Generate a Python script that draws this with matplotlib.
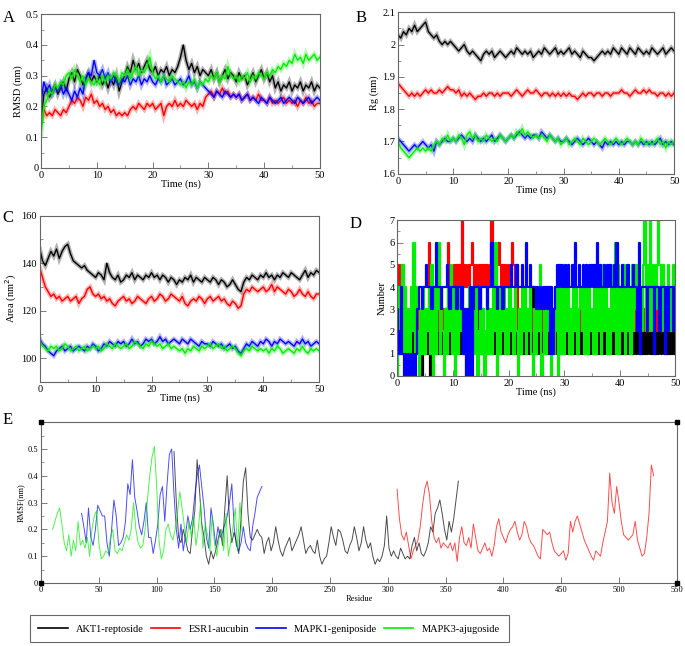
# MD simulation summary figure (RMSD, Rg, SASA, H-bonds, RMSF)
import numpy as np
import matplotlib
matplotlib.use('Agg')
import matplotlib.pyplot as plt
from matplotlib.lines import Line2D
from matplotlib.ticker import MultipleLocator, FormatStrFormatter

plt.rcParams['font.family'] = ['Liberation Serif', 'DejaVu Serif']

names = ['AKT1-reptoside', 'ESR1-aucubin', 'MAPK1-geniposide', 'MAPK3-ajugoside']
colors = ['#000000', '#ff0000', '#0000ff', '#00ee00']

# A: RMSD (nm), every 0.5 ns
rmsd_akt1 = [0.15,0.24,0.26,0.23,0.25,0.27,0.24,0.26,0.28,0.25,
             0.29,0.31,0.28,0.32,0.30,0.27,0.29,0.31,0.28,0.30,
             0.28,0.30,0.27,0.29,0.26,0.29,0.27,0.30,0.25,0.28,
             0.30,0.33,0.31,0.35,0.32,0.34,0.31,0.33,0.35,0.32,
             0.31,0.33,0.30,0.32,0.31,0.33,0.30,0.32,0.31,0.33,
             0.36,0.40,0.35,0.32,0.34,0.31,0.33,0.30,0.32,0.31,
             0.30,0.32,0.29,0.31,0.28,0.30,0.32,0.29,0.31,0.30,
             0.28,0.31,0.29,0.30,0.27,0.29,0.31,0.28,0.30,0.32,
             0.29,0.31,0.28,0.30,0.26,0.28,0.25,0.27,0.26,0.28,
             0.25,0.27,0.26,0.28,0.25,0.27,0.26,0.28,0.25,0.27,0.26]
rmsd_esr1 = [0.15,0.19,0.17,0.18,0.17,0.19,0.18,0.17,0.19,0.18,
             0.20,0.22,0.21,0.23,0.22,0.20,0.23,0.22,0.24,0.21,
             0.22,0.20,0.21,0.19,0.20,0.18,0.19,0.17,0.18,0.17,
             0.18,0.17,0.19,0.20,0.19,0.21,0.20,0.19,0.21,0.20,
             0.21,0.19,0.20,0.21,0.17,0.20,0.21,0.20,0.22,0.20,
             0.21,0.20,0.22,0.21,0.20,0.21,0.19,0.21,0.20,0.23,
             0.24,0.25,0.23,0.25,0.24,0.26,0.24,0.25,0.23,0.24,
             0.23,0.24,0.22,0.23,0.24,0.22,0.23,0.22,0.24,0.22,
             0.22,0.21,0.23,0.21,0.22,0.21,0.22,0.23,0.21,0.22,
             0.21,0.22,0.20,0.22,0.21,0.23,0.21,0.22,0.20,0.21,0.21]
rmsd_mapk1 = [0.22,0.28,0.25,0.27,0.24,0.26,0.25,0.27,0.24,0.26,
              0.24,0.22,0.25,0.23,0.26,0.24,0.29,0.31,0.30,0.35,
              0.31,0.30,0.32,0.29,0.31,0.28,0.30,0.28,0.27,0.29,
              0.28,0.30,0.27,0.29,0.28,0.30,0.27,0.29,0.28,0.30,
              0.28,0.27,0.29,0.28,0.30,0.27,0.28,0.29,0.27,0.28,
              0.29,0.27,0.28,0.30,0.27,0.28,0.26,0.28,0.27,0.26,
              0.25,0.24,0.23,0.25,0.24,0.23,0.25,0.24,0.23,0.24,
              0.23,0.24,0.22,0.23,0.24,0.22,0.23,0.22,0.21,0.23,
              0.22,0.21,0.23,0.22,0.21,0.22,0.23,0.21,0.22,0.23,
              0.22,0.21,0.23,0.22,0.21,0.22,0.23,0.21,0.22,0.23,0.22]
rmsd_mapk3 = [0.11,0.20,0.22,0.25,0.24,0.27,0.26,0.28,0.27,0.30,
              0.31,0.29,0.32,0.30,0.28,0.30,0.27,0.29,0.28,0.27,
              0.29,0.27,0.30,0.28,0.30,0.29,0.31,0.30,0.28,0.31,
              0.30,0.32,0.29,0.31,0.33,0.30,0.32,0.31,0.33,0.36,
              0.31,0.29,0.30,0.28,0.30,0.29,0.28,0.30,0.29,0.28,
              0.27,0.28,0.26,0.28,0.27,0.29,0.26,0.28,0.27,0.29,
              0.28,0.30,0.29,0.31,0.28,0.30,0.29,0.33,0.30,0.29,
              0.30,0.28,0.30,0.29,0.31,0.28,0.30,0.29,0.31,0.30,
              0.29,0.31,0.30,0.32,0.31,0.33,0.32,0.34,0.33,0.35,
              0.34,0.37,0.35,0.36,0.34,0.37,0.35,0.36,0.37,0.35,0.36]

# B: radius of gyration (nm)
rg_akt1 = [2.03,2.02,2.04,2.03,2.05,2.04,2.06,2.04,2.05,2.06,
           2.07,2.04,2.03,2.02,2.03,2.01,2.00,2.01,2.00,2.01,
           2.00,1.99,1.98,1.99,2.00,1.98,1.97,1.98,1.97,1.96,
           1.95,1.97,1.98,1.97,1.98,1.96,1.97,1.98,1.97,1.96,
           1.97,1.98,1.97,1.99,1.98,1.97,1.98,1.97,1.98,1.96,
           1.97,1.98,1.97,1.99,1.98,1.97,1.98,1.99,1.97,1.98,
           1.97,1.98,1.99,1.97,1.98,1.97,1.96,1.98,1.97,1.96,
           1.96,1.95,1.96,1.97,1.98,1.97,1.98,1.97,1.99,1.98,
           1.97,1.99,1.98,1.97,1.99,1.98,1.97,1.99,1.98,1.97,
           1.98,1.97,1.99,1.98,1.97,1.98,1.99,1.97,1.98,1.99,1.98]
rg_esr1 = [1.88,1.87,1.86,1.85,1.84,1.85,1.84,1.85,1.84,1.85,
           1.86,1.85,1.86,1.85,1.85,1.86,1.85,1.86,1.87,1.86,
           1.86,1.85,1.86,1.84,1.85,1.84,1.85,1.84,1.83,1.84,
           1.84,1.85,1.84,1.85,1.85,1.84,1.85,1.84,1.85,1.85,
           1.85,1.84,1.85,1.86,1.85,1.84,1.85,1.86,1.85,1.85,
           1.86,1.85,1.84,1.85,1.85,1.84,1.85,1.84,1.85,1.84,
           1.85,1.84,1.85,1.84,1.84,1.83,1.84,1.85,1.84,1.85,
           1.85,1.84,1.85,1.85,1.84,1.85,1.85,1.84,1.85,1.85,
           1.85,1.86,1.85,1.85,1.84,1.85,1.86,1.85,1.85,1.86,
           1.85,1.86,1.85,1.85,1.84,1.85,1.85,1.84,1.85,1.84,1.85]
rg_mapk1 = [1.71,1.70,1.69,1.68,1.67,1.68,1.69,1.68,1.69,1.70,
            1.69,1.68,1.69,1.67,1.70,1.69,1.70,1.71,1.70,1.70,
            1.71,1.70,1.71,1.72,1.71,1.70,1.71,1.70,1.72,1.71,
            1.70,1.71,1.70,1.71,1.72,1.70,1.71,1.72,1.71,1.70,
            1.71,1.72,1.71,1.72,1.73,1.72,1.71,1.72,1.71,1.72,
            1.72,1.71,1.73,1.72,1.71,1.72,1.71,1.70,1.71,1.70,
            1.70,1.71,1.70,1.69,1.70,1.71,1.70,1.69,1.70,1.71,
            1.70,1.69,1.70,1.69,1.68,1.70,1.69,1.70,1.69,1.70,
            1.69,1.70,1.69,1.70,1.70,1.69,1.70,1.69,1.70,1.69,
            1.70,1.69,1.70,1.69,1.70,1.71,1.69,1.70,1.69,1.70,1.69]
rg_mapk3 = [1.70,1.68,1.67,1.66,1.65,1.66,1.67,1.68,1.67,1.68,
            1.67,1.68,1.67,1.69,1.70,1.69,1.71,1.70,1.72,1.70,
            1.71,1.70,1.72,1.71,1.69,1.72,1.73,1.71,1.72,1.70,
            1.71,1.70,1.72,1.71,1.70,1.71,1.70,1.72,1.71,1.70,
            1.71,1.72,1.71,1.73,1.72,1.74,1.72,1.73,1.72,1.71,
            1.72,1.71,1.72,1.71,1.70,1.72,1.71,1.70,1.71,1.69,
            1.70,1.71,1.69,1.70,1.71,1.70,1.69,1.71,1.70,1.69,
            1.70,1.71,1.70,1.69,1.70,1.71,1.70,1.69,1.70,1.71,
            1.70,1.69,1.70,1.71,1.70,1.69,1.70,1.69,1.71,1.70,
            1.69,1.70,1.69,1.70,1.71,1.69,1.70,1.68,1.70,1.69,1.70]

# C: SASA (nm^2)
area_akt1 = [146,141,139,142,145,143,146,142,145,147,
             148,144,141,140,139,138,139,137,136,135,
             134,136,135,133,140,136,134,133,135,132,
             133,135,134,136,133,135,134,133,135,134,
             136,134,135,133,135,134,132,134,133,131,
             133,132,134,133,135,132,134,133,132,134,
             133,132,134,133,131,133,132,130,131,133,
             131,129,128,132,134,133,135,134,133,135,
             134,136,134,135,133,135,134,136,135,134,
             136,135,134,133,135,137,134,136,135,137,136]
area_esr1 = [138,134,130,128,126,127,125,126,124,125,
             126,124,125,126,123,125,126,129,130,127,
             126,127,125,126,124,125,123,122,124,125,
             126,124,125,123,124,126,125,124,123,125,
             126,124,125,127,126,124,125,127,126,125,
             124,126,123,122,124,125,124,126,125,123,
             125,126,124,125,126,124,125,123,122,124,
             123,121,122,127,129,128,130,129,128,129,
             130,128,129,131,128,130,129,128,127,129,
             128,126,127,129,127,126,128,126,125,127,127]
area_mapk1 = [108,106,105,103,102,101,103,104,105,103,
              104,105,103,104,105,104,103,105,104,106,
              105,103,104,106,105,107,106,105,107,106,
              107,105,106,108,106,107,105,106,108,107,
              108,106,107,109,107,108,106,107,108,107,
              106,108,107,106,108,107,106,105,107,106,
              106,105,107,106,105,106,104,105,106,104,
              105,103,102,104,106,105,107,106,105,107,
              106,108,107,105,107,106,108,107,106,107,
              106,105,107,106,108,106,107,105,106,107,106]
area_mapk3 = [107,105,104,103,105,104,105,103,104,106,
              105,103,104,105,103,104,105,103,104,105,
              104,105,103,104,106,105,104,106,105,104,
              105,106,104,105,107,106,105,104,106,105,
              107,106,105,106,104,105,106,104,105,104,
              103,104,102,104,103,105,104,103,105,104,
              105,106,104,105,106,104,105,103,104,105,
              104,102,101,103,104,103,105,104,103,104,
              103,104,102,104,103,105,104,102,103,104,
              103,102,104,103,105,103,102,104,103,104,103]

# D: number of H-bonds, every 0.25 ns (one digit per frame)
hb_akt1 = ("1213121312" "0213121203" "1213021312" "1312131213"
           "2131213121" "3121312131" "2131213121" "3121312131"
           "2131213121" "3121312141" "2131213121" "3121312131"
           "2131213121" "3121312131" "2131213121" "3121312131"
           "2121212121" "1212121212" "1212121212" "1212121212" "1")
hb_esr1 = ("3545423232" "3232323232" "2326232323" "2323232623"
           "4545454745" "4545654545" "4545454574" "5456545454"
           "5456545232" "3232323232" "3232323232" "3232323232"
           "3232323232" "3232323232" "3232323232" "3232323232"
           "3232323232" "3232323232" "3232323232" "3232323232" "3")
hb_mapk1 = ("3214101010" "1010134434" "4544434464" "4434445434"
            "4443443413" "0304034443" "3444434464" "4434443444"
            "4454445444" "5446445444" "3434343434" "1413454545"
            "4545445464" "4544545454" "5454645445" "4545445464"
            "4454445444" "5442614444" "2444414442" "4441424442" "4")
hb_mapk3 = ("0142514031" "4261420314" "1324150413" "6142031425"
            "1403142413" "0241431402" "4130241314" "2604132413"
            "1423142031" "4241324103" "1425014132" "4031420414"
            "1424131524" "1342415142" "3151424152" "4131524615"
            "1425142415" "2535242572" "5275253575" "2524352425" "4")

# E: RMSF (nm) per residue, every 2 residues
rmsf_akt1_start = 115
rmsf_akt1 = [0.49,0.30,0.17,0.15,0.20,0.16,0.12,0.11,0.20,0.27,
             0.46,0.35,0.22,0.17,0.10,0.07,0.12,0.09,0.12,0.16,
             0.20,0.14,0.28,0.40,0.23,0.15,0.19,0.15,0.11,0.24,
             0.38,0.43,0.26,0.17,0.16,0.18,0.20,0.18,0.17,0.11,
             0.15,0.17,0.12,0.15,0.21,0.16,0.12,0.10,0.13,0.15,
             0.17,0.12,0.14,0.16,0.18,0.21,0.16,0.11,0.13,0.14,
             0.12,0.11,0.16,0.10,0.07,0.09,0.10,0.15,0.21,0.17,
             0.14,0.20,0.19,0.16,0.12,0.11,0.14,0.16,0.21,0.17,
             0.12,0.15,0.21,0.16,0.13,0.15,0.10,0.07,0.09,0.08,
             0.10,0.14,0.25,0.13,0.10,0.12,0.10,0.09,0.13,0.11,
             0.09,0.10,0.09,0.14,0.17,0.12,0.15,0.11,0.10,0.12,
             0.15,0.21,0.19,0.26,0.28,0.31,0.26,0.20,0.16,0.23,
             0.19,0.24,0.31,0.38]
rmsf_esr1_start = 308
rmsf_esr1 = [0.35,0.24,0.18,0.16,0.19,0.14,0.09,0.12,0.14,0.16,
             0.21,0.29,0.35,0.38,0.33,0.23,0.17,0.15,0.17,0.13,
             0.15,0.14,0.13,0.15,0.12,0.15,0.08,0.17,0.21,0.15,
             0.14,0.17,0.13,0.22,0.17,0.12,0.11,0.13,0.15,0.12,
             0.13,0.10,0.14,0.21,0.24,0.19,0.17,0.15,0.18,0.20,
             0.21,0.23,0.19,0.16,0.18,0.23,0.21,0.17,0.15,0.14,
             0.12,0.10,0.09,0.20,0.19,0.18,0.19,0.15,0.12,0.11,
             0.10,0.11,0.12,0.085,0.11,0.23,0.19,0.23,0.25,0.22,
             0.19,0.16,0.14,0.12,0.10,0.085,0.12,0.11,0.10,0.15,
             0.19,0.23,0.41,0.30,0.26,0.36,0.30,0.23,0.18,0.17,
             0.16,0.17,0.18,0.23,0.16,0.13,0.10,0.11,0.17,0.26,
             0.44,0.40]
rmsf_mapk1_start = 35
rmsf_mapk1 = [0.26,0.21,0.15,0.28,0.17,0.14,0.20,0.29,0.27,0.25,
              0.25,0.15,0.10,0.20,0.31,0.25,0.14,0.15,0.17,0.23,
              0.37,0.33,0.46,0.32,0.27,0.21,0.18,0.23,0.30,0.17,
              0.17,0.11,0.16,0.22,0.33,0.36,0.23,0.37,0.48,0.50,
              0.33,0.20,0.13,0.22,0.12,0.18,0.25,0.20,0.24,0.33,
              0.40,0.44,0.36,0.28,0.17,0.13,0.28,0.22,0.14,0.21,
              0.17,0.19,0.22,0.25,0.30,0.37,0.21,0.14,0.12,0.15,
              0.21,0.15,0.13,0.12,0.21,0.26,0.32,0.34,0.36]
rmsf_mapk3_start = 10
rmsf_mapk3 = [0.20,0.23,0.26,0.28,0.22,0.15,0.12,0.18,0.10,0.16,
              0.12,0.23,0.14,0.16,0.13,0.17,0.10,0.20,0.25,0.27,
              0.15,0.09,0.10,0.12,0.11,0.17,0.20,0.12,0.11,0.13,
              0.12,0.15,0.18,0.16,0.20,0.30,0.20,0.15,0.13,0.14,
              0.20,0.31,0.40,0.47,0.51,0.36,0.16,0.09,0.12,0.20,
              0.22,0.18,0.16,0.20,0.26,0.34,0.28,0.21,0.15,0.23,
              0.17,0.25,0.14,0.20,0.30,0.13,0.22,0.18,0.12,0.25,
              0.15,0.10,0.17,0.20,0.12,0.26,0.10,0.15,0.21,0.28,
              0.12,0.30,0.19]

fig = plt.figure(figsize=(6.85, 6.46), dpi=100)

ax_a = fig.add_axes([0.060, 0.740, 0.407, 0.238])
ax_b = fig.add_axes([0.581, 0.731, 0.403, 0.250])
ax_c = fig.add_axes([0.058, 0.409, 0.408, 0.257])
ax_d = fig.add_axes([0.580, 0.418, 0.406, 0.241])
ax_e = fig.add_axes([0.060, 0.0975, 0.928, 0.249])

spine_col = '#666666'


def style(ax, fs=7.5):
    for s in ax.spines.values():
        s.set_color(spine_col)
        s.set_linewidth(0.8)
    ax.tick_params(which='both', direction='in', color=spine_col, labelsize=fs, pad=2)
    ax.tick_params(which='major', length=4, width=0.6)
    ax.tick_params(which='minor', length=2, width=0.5)


series_a = [rmsd_akt1, rmsd_esr1, rmsd_mapk1, rmsd_mapk3]
series_b = [rg_akt1, rg_esr1, rg_mapk1, rg_mapk3]
series_c = [area_akt1, area_esr1, area_mapk1, area_mapk3]

for ax, series in [(ax_a, series_a), (ax_b, series_b), (ax_c, series_c)]:
    for vals, c in zip(series, colors):
        t = np.linspace(0, 50, len(vals))
        # light halo + solid core to imitate the noisy trajectory band
        ax.plot(t, vals, color=c, lw=3.2, alpha=0.3, solid_joinstyle='miter')
        ax.plot(t, vals, color=c, lw=1.0)

# A
ax_a.set_xlim(0, 50)
ax_a.set_ylim(0, 0.5)
ax_a.yaxis.set_major_locator(MultipleLocator(0.1))
ax_a.yaxis.set_minor_locator(MultipleLocator(0.05))
ax_a.set_ylabel('RMSD (nm)', fontsize=7.5, labelpad=2)

# B
ax_b.set_xlim(0, 50)
ax_b.set_ylim(1.6, 2.1)
ax_b.yaxis.set_major_locator(MultipleLocator(0.1))
ax_b.yaxis.set_minor_locator(MultipleLocator(0.05))
ax_b.set_ylabel('Rg (nm)', fontsize=7.5, labelpad=2)

# C
ax_c.set_xlim(0, 50)
ax_c.set_ylim(90, 160)
ax_c.yaxis.set_major_locator(MultipleLocator(20))
ax_c.yaxis.set_minor_locator(MultipleLocator(10))
ax_c.set_ylabel('Area (nm$^2$)', fontsize=7.5, labelpad=2)

# D  (blue drawn last, as it sits on top in the original)
hb_series = [(hb_akt1, colors[0]), (hb_esr1, colors[1]),
             (hb_mapk3, colors[3]), (hb_mapk1, colors[2])]
for h, c in hb_series:
    vals = [int(ch) for ch in h]
    t = np.linspace(0, 50, len(vals))
    ax_d.plot(t, vals, color=c, lw=1.6, drawstyle='steps-mid')
ax_d.set_xlim(0, 50)
ax_d.set_ylim(0, 7)
ax_d.yaxis.set_major_locator(MultipleLocator(1))
ax_d.yaxis.set_minor_locator(MultipleLocator(0.5))
ax_d.set_ylabel('Number', fontsize=7.5, labelpad=2)

for ax in [ax_a, ax_b, ax_c, ax_d]:
    ax.xaxis.set_major_locator(MultipleLocator(10))
    ax.xaxis.set_minor_locator(MultipleLocator(5))
    ax.yaxis.set_major_formatter(FormatStrFormatter('%g'))
    ax.set_xlabel('Time (ns)', fontsize=7.5, labelpad=0)
    style(ax)

# E
for vals, start, c in [(rmsf_akt1, rmsf_akt1_start, colors[0]),
                       (rmsf_esr1, rmsf_esr1_start, colors[1]),
                       (rmsf_mapk1, rmsf_mapk1_start, colors[2]),
                       (rmsf_mapk3, rmsf_mapk3_start, colors[3])]:
    res = start + 2 * np.arange(len(vals))
    ax_e.plot(res, vals, color=c, lw=0.7, alpha=0.7)
ax_e.set_xlim(0, 550)
ax_e.set_ylim(0, 0.6)
ax_e.xaxis.set_major_locator(MultipleLocator(50))
ax_e.yaxis.set_minor_locator(MultipleLocator(0.05))
ax_e.set_yticks([0, 0.1, 0.2, 0.3, 0.4, 0.5])
ax_e.yaxis.set_major_formatter(FormatStrFormatter('%g'))
style(ax_e, fs=6)
ax_e.set_xlabel('Residue', fontsize=6, labelpad=1)
ax_e.set_ylabel('RMSF(nm)', fontsize=6, labelpad=2)
ax_e.plot([0, 0, 550, 550], [0, 0.6, 0, 0.6], 's', color='black', ms=3,
          clip_on=False, zorder=5)

# panel letters
for lab, x, y in [('A', 0.004, 0.985), ('B', 0.519, 0.985), ('C', 0.004, 0.675),
                  ('D', 0.51, 0.665), ('E', 0.004, 0.362)]:
    fig.text(x, y, lab, fontsize=12, va='top', ha='left')

handles = [Line2D([0], [0], color=c, lw=1.2) for c in colors]
leg = fig.legend(handles, names, loc='center', ncol=4,
                 bbox_to_anchor=(0.393, 0.0265),
                 fontsize=7.5, frameon=True, fancybox=False, handlelength=2.8,
                 borderaxespad=0, borderpad=0.85, handletextpad=0.8,
                 columnspacing=0.7)
leg.get_frame().set_edgecolor('#444444')
leg.get_frame().set_linewidth(0.8)

fig.savefig('out.png', dpi=100)
